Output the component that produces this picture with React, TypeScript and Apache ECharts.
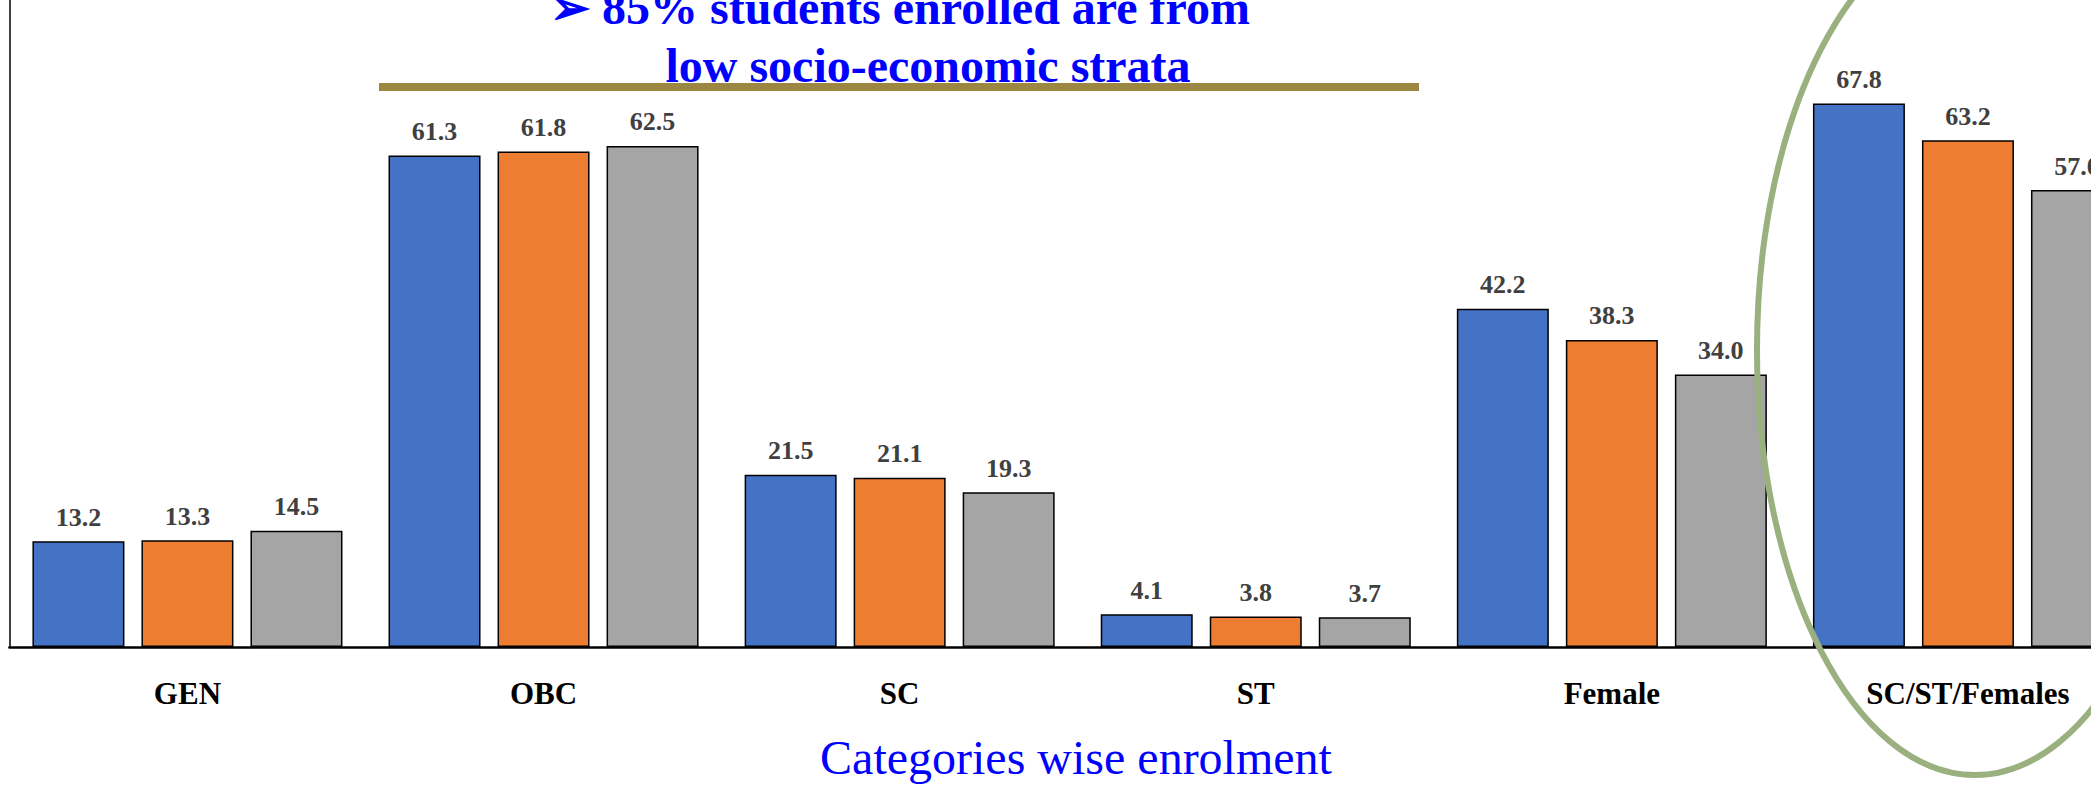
import React, { useEffect, useRef } from "react";
import * as echarts from "echarts";

const categories = ["GEN", "OBC", "SC", "ST", "Female", "SC/ST/Females"];
const series1 = [13.2, 61.3, 21.5, 4.1, 42.2, 67.8];
const series2 = [13.3, 61.8, 21.1, 3.8, 38.3, 63.2];
const series3 = [14.5, 62.5, 19.3, 3.7, 34.0, 57.0];
const seriesColors = ["#4472C4", "#ED7D31", "#A5A5A5"];
const titleLine1 = "➢ 85% students enrolled are from";
const titleLine2 = "low socio-economic strata";
const xTitle = "Categories wise enrolment";

const SERIF = "'Liberation Serif', 'Times New Roman', serif";

export default function App() {
  const ref = useRef<HTMLDivElement>(null);
  useEffect(() => {
    if (!ref.current) return;
    const chart = echarts.init(ref.current, null, { renderer: "svg" });
    const mk = (data: number[], i: number) => ({
      type: "bar",
      data,
      barWidth: 92,
      barGap: "18.5%",
      itemStyle: { color: seriesColors[i], borderColor: "#000", borderWidth: 1.5 },
      label: {
        show: true,
        position: "top",
        distance: 11,
        formatter: (p: any) => Number(p.value).toFixed(1),
        fontFamily: SERIF,
        fontWeight: "bold",
        fontSize: 26,
        color: "#404040",
      },
    });
    chart.setOption({
      animation: false,
      backgroundColor: "#fff",
      grid: { left: 9.4, right: 0, top: 0, bottom: 138, containLabel: false },
      xAxis: {
        type: "category",
        data: categories,
        axisLine: { show: true, lineStyle: { color: "#000", width: 2.5 } },
        axisTick: { show: false },
        axisLabel: {
          margin: 31,
          fontFamily: SERIF,
          fontWeight: "bold",
          fontSize: 31,
          color: "#000",
          interval: 0,
        },
      },
      yAxis: {
        type: "value",
        min: 0,
        max: 80.7,
        splitLine: { show: false },
        axisLabel: { show: false },
        axisTick: { show: false },
        axisLine: { show: true, lineStyle: { color: "#000", width: 1.5 } },
      },
      series: [mk(series1, 0), mk(series2, 1), mk(series3, 2)],
      graphic: [
        {
          type: "text",
          x: 900,
          y: 7,
          z: 100,
          style: {
            text: titleLine1,
            fontFamily: SERIF,
            fontWeight: "bold",
            fontSize: 48,
            fill: "#0000FF",
            textAlign: "center",
            textVerticalAlign: "middle",
          },
        },
        {
          type: "text",
          x: 928,
          y: 65,
          z: 100,
          style: {
            text: titleLine2,
            fontFamily: SERIF,
            fontWeight: "bold",
            fontSize: 48,
            fill: "#0000FF",
            textAlign: "center",
            textVerticalAlign: "middle",
          },
        },
        {
          type: "rect",
          z: 100,
          shape: { x: 379, y: 83, width: 1040, height: 8 },
          style: { fill: "#9B8742" },
        },
        {
          type: "text",
          x: 1076,
          y: 757,
          z: 100,
          style: {
            text: xTitle,
            fontFamily: SERIF,
            fontSize: 48,
            fill: "#0000FF",
            textAlign: "center",
            textVerticalAlign: "middle",
          },
        },
        {
          type: "ellipse",
          z: 100,
          shape: { cx: 1975, cy: 350, rx: 218, ry: 425 },
          style: { fill: "none", stroke: "#9BB07F", lineWidth: 6 },
        },
      ],
    });
    return () => chart.dispose();
  }, []);
  return (
    <div
      ref={ref}
      style={{ position: "fixed", left: 0, top: 0, width: 2146, height: 785, background: "#fff" }}
    />
  );
}
